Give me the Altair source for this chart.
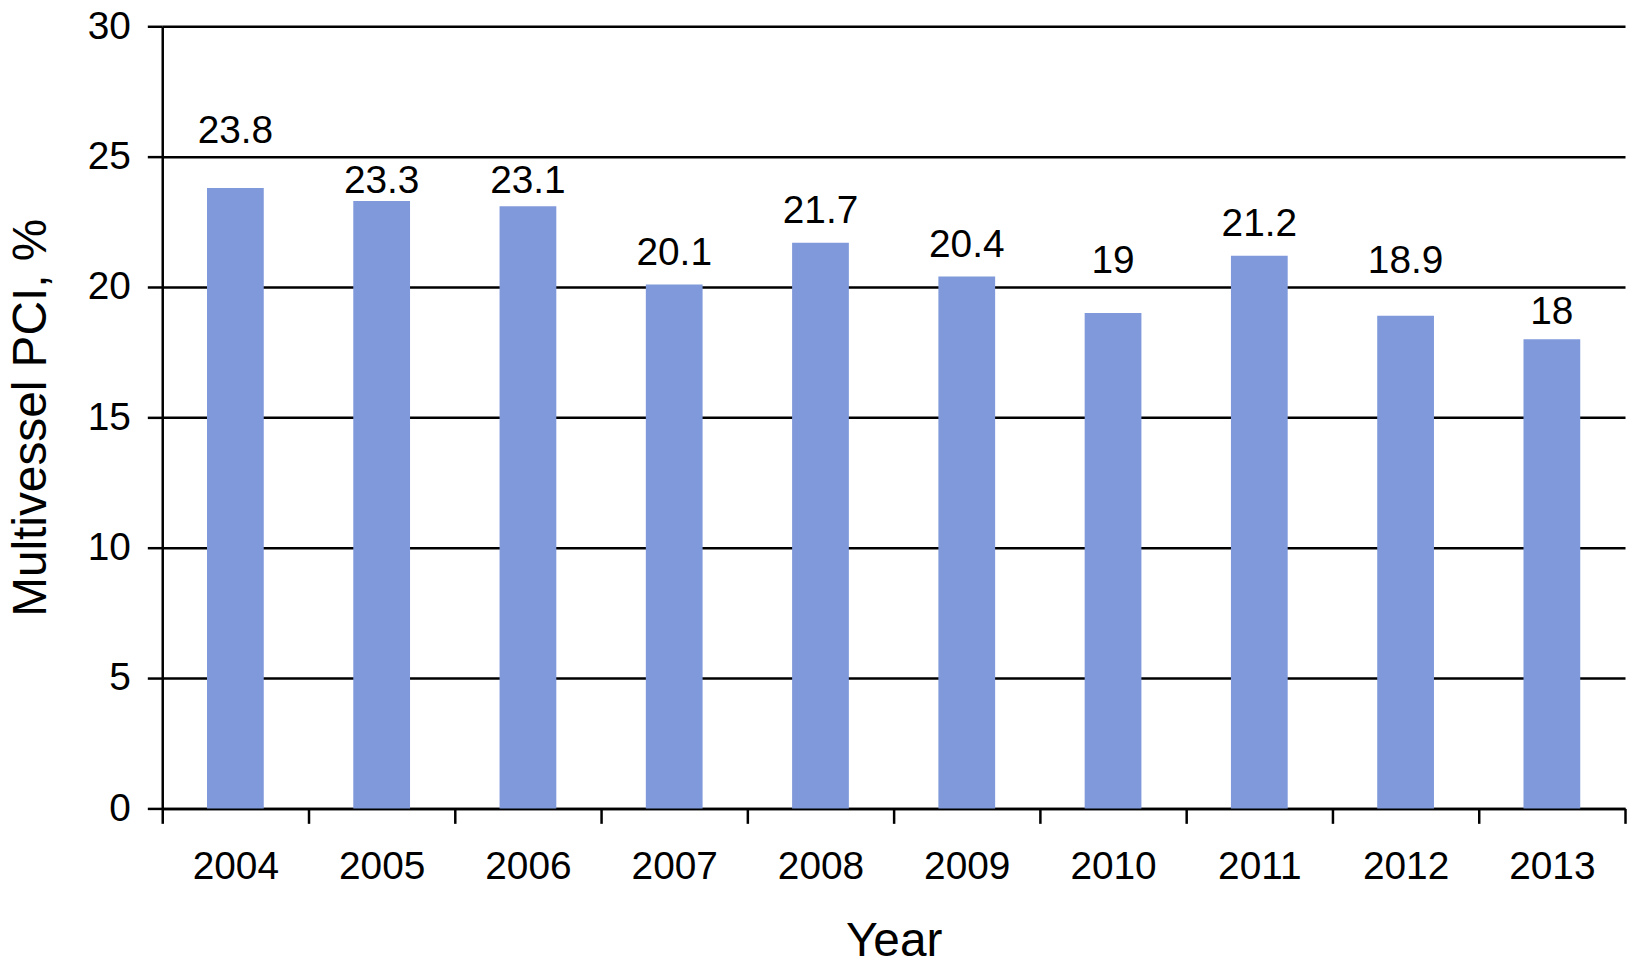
import altair as alt
import pandas as pd

years = ["2004", "2005", "2006", "2007", "2008", "2009", "2010", "2011", "2012", "2013"]
values = [23.8, 23.3, 23.1, 20.1, 21.7, 20.4, 19, 21.2, 18.9, 18]
value_labels = ["23.8", "23.3", "23.1", "20.1", "21.7", "20.4", "19", "21.2", "18.9", "18"]
y_ticks = [0, 5, 10, 15, 20, 25, 30]

df = pd.DataFrame({"Year": years, "PCI": values, "Label": value_labels})

FONT = "Liberation Sans"
BAR_COLOR = "#7F99DA"

x_scale = alt.Scale(paddingInner=0, paddingOuter=0)
x_axis = alt.Axis(
    title="Year",
    labelAngle=0,
    tickBand="extent",
    tickSize=15,
    tickWidth=2.5,
    tickColor="black",
    domainColor="black",
    domainWidth=2.5,
    labelFontSize=39,
    labelFont=FONT,
    labelColor="black",
    labelPadding=24,
    titleFontSize=48,
    titleFont=FONT,
    titleFontWeight="normal",
    titleColor="black",
    titlePadding=32,
    grid=False,
)

y_scale = alt.Scale(domain=[0, 30], nice=False)
y_axis = alt.Axis(
    values=y_ticks,
    title="Multivessel PCI, %",
    grid=True,
    gridColor="black",
    gridWidth=2.5,
    gridOpacity=1,
    tickSize=15,
    tickWidth=2.5,
    tickColor="black",
    domainColor="black",
    domainWidth=2.5,
    labelFontSize=39,
    labelFont=FONT,
    labelColor="black",
    labelPadding=17,
    titleFontSize=48,
    titleFont=FONT,
    titleFontWeight="normal",
    titleColor="black",
    titlePadding=32,
)

base = alt.Chart(df)

bars = base.mark_bar(color=BAR_COLOR, width=alt.RelativeBandSize(0.388)).encode(
    x=alt.X("Year:N", sort=years, scale=x_scale, axis=x_axis),
    y=alt.Y("PCI:Q", scale=y_scale, axis=y_axis),
)

# Labels sit above each bar, nudged off any gridline they would cross
texts = (
    base.transform_calculate(c="datum.PCI + 1.2")
    .transform_calculate(g="round(datum.c / 5) * 5")
    .transform_calculate(
        ly="abs(datum.c - datum.g) < 0.85 ? (datum.c < datum.g ? datum.g - 0.95 : datum.g + 1.0) : datum.c"
    )
    .mark_text(fontSize=39, font=FONT, color="black", baseline="middle", align="center")
    .encode(
        x=alt.X("Year:N", sort=years, scale=x_scale, axis=x_axis),
        y=alt.Y("ly:Q", scale=y_scale, axis=y_axis),
        text="Label:N",
    )
)

chart = (
    alt.layer(bars, texts)
    .properties(
        width=1470,
        height=786,
        autosize=alt.AutoSizeParams(type="none"),
        padding={"left": 155, "top": 16, "right": 2, "bottom": 158},
    )
    .configure_view(stroke=None)
)

chart.save("out.html", embed_options={"renderer": "svg", "actions": False})
